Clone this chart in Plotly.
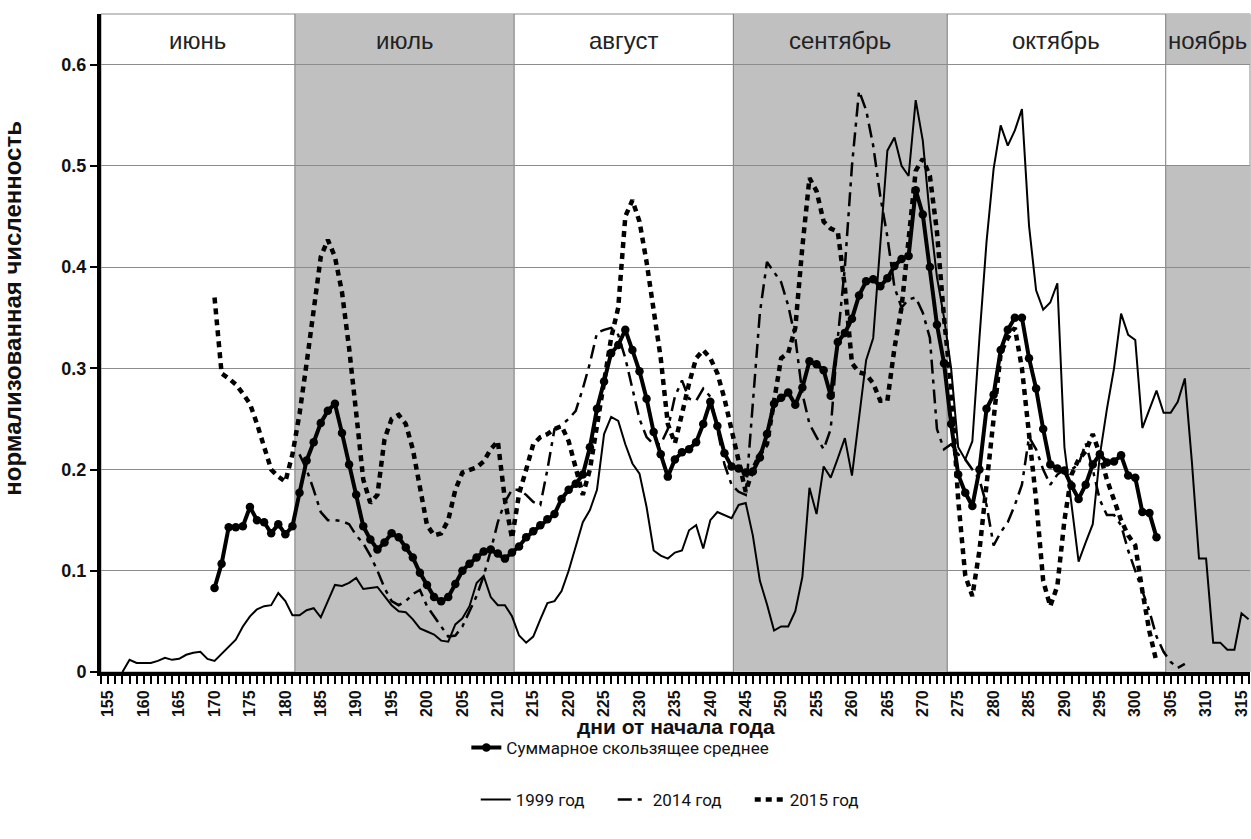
import plotly.graph_objects as go

# ---------------- data ----------------
MONTHS = ["июнь", "июль", "август", "сентябрь", "октябрь", "ноябрь"]
X_TITLE = "дни от начала года"
Y_TITLE = "нормализованная численность"

START_1999 = 157
VAL_1999 = [
    0.0, 0.012, 0.009, 0.009, 0.009, 0.011, 0.014, 0.012, 0.013, 0.017,
    0.019, 0.020, 0.013, 0.011, 0.018, 0.025, 0.032, 0.045, 0.055, 0.062,
    0.065, 0.066, 0.078, 0.070, 0.056, 0.056, 0.061, 0.063, 0.054, 0.070,
    0.086, 0.085, 0.088, 0.093, 0.082, 0.083, 0.084, 0.075, 0.066, 0.060,
    0.059, 0.052, 0.043, 0.040, 0.037, 0.031, 0.030, 0.047, 0.053, 0.065,
    0.088, 0.095, 0.074, 0.066, 0.066, 0.055, 0.036, 0.029, 0.035, 0.052,
    0.068, 0.070, 0.080, 0.100, 0.123, 0.148, 0.160, 0.180, 0.235, 0.252,
    0.248, 0.225, 0.206, 0.196, 0.163, 0.120, 0.115, 0.112, 0.118, 0.120,
    0.140, 0.145, 0.122, 0.150, 0.158, 0.155, 0.152, 0.165, 0.167, 0.135,
    0.090, 0.067, 0.041, 0.045, 0.045, 0.060, 0.094, 0.182, 0.156, 0.203,
    0.192, 0.211, 0.231, 0.194, 0.250, 0.308, 0.330, 0.420, 0.515, 0.528,
    0.500, 0.490, 0.565, 0.525, 0.450, 0.390, 0.350, 0.300, 0.222, 0.210,
    0.228, 0.330, 0.425, 0.497, 0.540, 0.520, 0.535, 0.556, 0.441, 0.377,
    0.358, 0.365, 0.384, 0.222, 0.165, 0.109, 0.128, 0.146, 0.214, 0.260,
    0.300, 0.354, 0.333, 0.328, 0.241, 0.260, 0.278, 0.256, 0.256, 0.267,
    0.290, 0.207, 0.112, 0.112, 0.029, 0.029, 0.022, 0.022, 0.058, 0.052,
]

START_2014 = 182
VAL_2014 = [
    0.215, 0.200, 0.180, 0.158, 0.150, 0.150, 0.149, 0.146, 0.135, 0.127,
    0.115, 0.100, 0.083, 0.070, 0.066, 0.070, 0.077, 0.081, 0.065, 0.055,
    0.045, 0.035, 0.036, 0.045, 0.060, 0.075, 0.095, 0.120, 0.148, 0.168,
    0.180, 0.180, 0.175, 0.168, 0.165, 0.200, 0.240, 0.244, 0.250, 0.258,
    0.280, 0.305, 0.335, 0.338, 0.340, 0.333, 0.310, 0.280, 0.250, 0.232,
    0.225, 0.225, 0.240, 0.272, 0.288, 0.270, 0.268, 0.280, 0.272, 0.240,
    0.205, 0.185, 0.178, 0.175, 0.270, 0.355, 0.405, 0.395, 0.385, 0.362,
    0.330, 0.275, 0.245, 0.232, 0.220, 0.240, 0.330, 0.400, 0.500, 0.574,
    0.555, 0.520, 0.470, 0.430, 0.380, 0.360, 0.368, 0.370, 0.355, 0.330,
    0.240, 0.220, 0.225, 0.215, 0.210, 0.200, 0.190, 0.165, 0.125, 0.138,
    0.148, 0.165, 0.185, 0.232, 0.220, 0.200, 0.185, 0.195, 0.200, 0.200,
    0.205, 0.226, 0.200, 0.170, 0.155, 0.155, 0.145, 0.120, 0.100, 0.080,
    0.060, 0.035, 0.020, 0.010, 0.004, 0.008,
]

START_2015 = 170
VAL_2015 = [
    0.370, 0.295, 0.290, 0.284, 0.275, 0.265, 0.245, 0.222, 0.200, 0.193,
    0.188, 0.215, 0.255, 0.305, 0.360, 0.410, 0.427, 0.410, 0.375, 0.320,
    0.256, 0.190, 0.167, 0.175, 0.230, 0.250, 0.254, 0.245, 0.220, 0.180,
    0.145, 0.135, 0.137, 0.150, 0.180, 0.197, 0.200, 0.202, 0.208, 0.220,
    0.228, 0.170, 0.132, 0.176, 0.200, 0.225, 0.232, 0.235, 0.240, 0.243,
    0.228, 0.200, 0.175, 0.200, 0.245, 0.290, 0.330, 0.360, 0.450, 0.466,
    0.445, 0.405, 0.360, 0.310, 0.245, 0.226, 0.255, 0.285, 0.310, 0.318,
    0.310, 0.295, 0.270, 0.240, 0.212, 0.178, 0.200, 0.215, 0.225, 0.270,
    0.310, 0.315, 0.340, 0.420, 0.488, 0.475, 0.445, 0.438, 0.435, 0.380,
    0.305, 0.296, 0.294, 0.285, 0.268, 0.268, 0.320, 0.360, 0.430, 0.495,
    0.507, 0.490, 0.435, 0.350, 0.280, 0.170, 0.095, 0.075, 0.120, 0.190,
    0.250, 0.315, 0.330, 0.340, 0.300, 0.235, 0.170, 0.090, 0.065, 0.085,
    0.150, 0.195, 0.210, 0.218, 0.235, 0.215, 0.190, 0.170, 0.150, 0.135,
    0.125, 0.080, 0.040, 0.010,
]

START_MEAN = 170
VAL_MEAN = [
    0.083, 0.107, 0.143, 0.143, 0.144, 0.163, 0.150, 0.148, 0.137, 0.146,
    0.136, 0.144, 0.177, 0.209, 0.227, 0.246, 0.258, 0.265, 0.236, 0.205,
    0.175, 0.144, 0.131, 0.121, 0.128, 0.137, 0.133, 0.123, 0.113, 0.098,
    0.086, 0.074, 0.070, 0.074, 0.087, 0.100, 0.107, 0.113, 0.119, 0.121,
    0.117, 0.112, 0.118, 0.124, 0.133, 0.139, 0.145, 0.151, 0.156, 0.171,
    0.180, 0.186, 0.195, 0.222, 0.260, 0.287, 0.315, 0.323, 0.338, 0.318,
    0.297, 0.270, 0.237, 0.215, 0.193, 0.210, 0.217, 0.220, 0.227, 0.245,
    0.267, 0.243, 0.216, 0.203, 0.201, 0.197, 0.198, 0.212, 0.235, 0.265,
    0.271, 0.276, 0.264, 0.281, 0.307, 0.304, 0.298, 0.273, 0.326, 0.335,
    0.349, 0.372, 0.386, 0.388, 0.381, 0.389, 0.401, 0.408, 0.411, 0.476,
    0.452, 0.400, 0.343, 0.305, 0.245, 0.195, 0.177, 0.164, 0.200, 0.260,
    0.274, 0.318, 0.338, 0.350, 0.350, 0.310, 0.280, 0.240, 0.205, 0.201,
    0.199, 0.184, 0.171, 0.185, 0.205, 0.215, 0.207, 0.208, 0.214, 0.194,
    0.192, 0.158, 0.157, 0.133,
]

DAYS_1999 = list(range(START_1999, START_1999 + len(VAL_1999)))
DAYS_2014 = list(range(START_2014, START_2014 + len(VAL_2014)))
DAYS_2015 = list(range(START_2015, START_2015 + len(VAL_2015)))
DAYS_MEAN = list(range(START_MEAN, START_MEAN + len(VAL_MEAN)))

Y_TICKS = [0, 0.1, 0.2, 0.3, 0.4, 0.5, 0.6]
Y_TICK_TEXT = ["0", "0.1", "0.2", "0.3", "0.4", "0.5", "0.6"]

# ---------------- layout constants ----------------
X_MIN, X_MAX = 153.97, 316.2
Y_MAX = 0.65
BOUNDS = [X_MIN, 181.35, 212.3, 243.25, 273.45, 304.3, X_MAX]
GRAY = "#c0c0c0"
FONT = "Liberation Sans, Arial, sans-serif"
LEGFONT = "Roboto, Liberation Sans, sans-serif"

fig = go.Figure()

fig.add_trace(go.Scatter(
    x=DAYS_1999, y=VAL_1999, mode="lines", name="1999 год",
    line=dict(color="black", width=2), legend="legend2"))
fig.add_trace(go.Scatter(
    x=DAYS_2014, y=VAL_2014, mode="lines", name="2014 год",
    line=dict(color="black", width=2.5, dash="14px,6px,4px,6px"), legend="legend2"))
fig.add_trace(go.Scatter(
    x=DAYS_2015, y=VAL_2015, mode="lines", name="2015 год",
    line=dict(color="black", width=4.5, dash="6px,5px"), legend="legend2"))
fig.add_trace(go.Scatter(
    x=DAYS_MEAN, y=VAL_MEAN, mode="lines+markers", name="Суммарное скользящее среднее",
    line=dict(color="black", width=4), marker=dict(size=8.5, color="black"),
    legend="legend"))

shapes = []
# shaded months: July, September full height; November split
for i in (1, 3):
    shapes.append(dict(type="rect", xref="x", yref="y", x0=BOUNDS[i], x1=BOUNDS[i + 1],
                       y0=0, y1=Y_MAX, fillcolor=GRAY, line=dict(width=0), layer="below"))
shapes.append(dict(type="rect", xref="x", yref="y", x0=BOUNDS[5], x1=BOUNDS[6],
                   y0=0, y1=0.5, fillcolor=GRAY, line=dict(width=0), layer="below"))
shapes.append(dict(type="rect", xref="x", yref="y", x0=BOUNDS[5], x1=BOUNDS[6],
                   y0=0.6, y1=Y_MAX, fillcolor=GRAY, line=dict(width=0), layer="below"))
for b in BOUNDS[1:-1]:
    shapes.append(dict(type="line", xref="x", yref="y", x0=b, x1=b, y0=0, y1=Y_MAX,
                       line=dict(color="#7a7a7a", width=1), layer="below"))
# plot frame (top / right)
shapes.append(dict(type="rect", xref="paper", yref="paper", x0=0, x1=1, y0=0, y1=1,
                   line=dict(color="#8c8c8c", width=1), fillcolor="rgba(0,0,0,0)", layer="below"))

annotations = []
for i, m in enumerate(MONTHS):
    annotations.append(dict(x=(BOUNDS[i] + BOUNDS[i + 1]) / 2, y=0.624, xref="x", yref="y",
                            text=m, showarrow=False, xanchor="center", yanchor="middle",
                            font=dict(family=FONT, size=24, color="#222")))
# axis titles
annotations.append(dict(x=0.5, y=-0.0835, xref="paper", yref="paper", text=X_TITLE,
                        showarrow=False, xanchor="center", yanchor="middle",
                        font=dict(family=FONT, size=21, color="#111", weight="bold")))
annotations.append(dict(x=-0.077, y=0.553, xref="paper", yref="paper", text=Y_TITLE,
                        textangle=-90, showarrow=False, xanchor="center", yanchor="middle",
                        font=dict(family=FONT, size=24, color="#111", weight="bold")))

fig.update_layout(
    width=1251, height=839,
    margin=dict(l=101, r=1, t=14, b=167),
    plot_bgcolor="white", paper_bgcolor="white",
    shapes=shapes, annotations=annotations,
    xaxis=dict(
        range=[X_MIN, X_MAX], tickmode="linear", tick0=155, dtick=5, tickangle=-90,
        ticks="outside", ticklen=8, tickwidth=2, tickcolor="black",
        showline=True, linewidth=4, linecolor="black", showgrid=False, zeroline=False,
        ticklabeloverflow="allow",
        tickfont=dict(family=FONT, size=16, color="#111", weight="bold"),
        minor=dict(dtick=1, tick0=155, ticks="outside", ticklen=8, tickwidth=2,
                   tickcolor="black", showgrid=False),
    ),
    yaxis=dict(
        range=[0, Y_MAX], tickmode="array", tickvals=Y_TICKS, ticktext=Y_TICK_TEXT,
        showgrid=True, gridcolor="#8c8c8c", gridwidth=1,
        showline=True, linewidth=4, linecolor="black", zeroline=False,
        ticks="outside", ticklen=7, tickwidth=2, tickcolor="black",
        tickfont=dict(family=FONT, size=18, color="#111", weight="bold"),
    ),
    legend=dict(orientation="h", x=0.452, y=-0.1155, xanchor="center", yanchor="middle",
                font=dict(family=LEGFONT, size=17, color="#111"), bgcolor="rgba(0,0,0,0)"),
    legend2=dict(orientation="h", x=0.505, y=-0.1945, xanchor="center", yanchor="middle",
                 font=dict(family=LEGFONT, size=17, color="#111"), bgcolor="rgba(0,0,0,0)",
                 entrywidth=92),
    showlegend=True,
)

fig.write_html("out.html", config={"displayModeBar": False},
               post_script="document.body.style.margin='0';")
